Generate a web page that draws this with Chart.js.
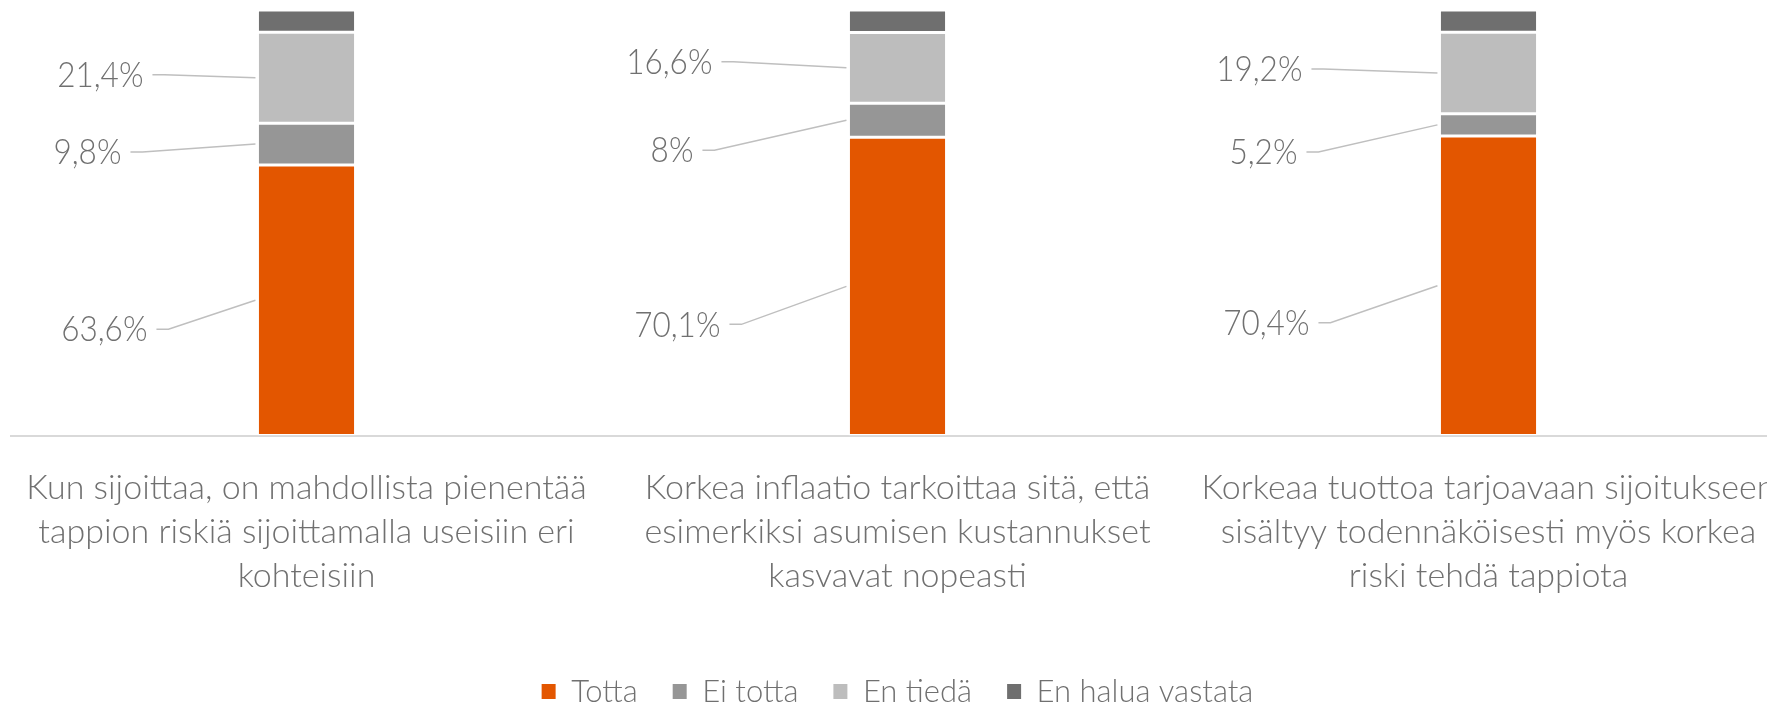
<!DOCTYPE html>
<html>
<head>
<meta charset="utf-8">
<script src="https://cdn.jsdelivr.net/npm/chart.js@4"></script>
<style>
  html, body { margin: 0; padding: 0; background: #fff; overflow: hidden; }
  #wrap { width: 1800px; height: 717px; }
</style>
</head>
<body>
<div id="wrap"><canvas id="chart"></canvas></div>
<script>
// Statements (x axis), three lines each as in the original
const categories = [
  ['Kun sijoittaa, on mahdollista pienentää', 'tappion riskiä sijoittamalla useisiin eri', 'kohteisiin'],
  ['Korkea inflaatio tarkoittaa sitä, että', 'esimerkiksi asumisen kustannukset', 'kasvavat nopeasti'],
  ['Korkeaa tuottoa tarjoavaan sijoitukseen', 'sisältyy todennäköisesti myös korkea', 'riski tehdä tappiota']
];

// Shares of answers (%)
const totta = [63.6, 70.1, 70.4];
const eiTotta = [9.8, 8, 5.2];
const enTieda = [21.4, 16.6, 19.2];
const enHalua = [5.2, 5.3, 5.2];

const seriesNames = ['Totta', 'Ei totta', 'En tiedä', 'En halua vastata'];
const seriesColors = ['#E35600', '#969696', '#BDBDBD', '#6F6F6F'];

// Where each data label sits, relative to its bar segment
// dx = right edge of text from bar left edge, dy = offset from segment middle
const labelOffsets = [
  [{dx: -110, dy: 29}, {dx: -128, dy: 38}, {dx: -130, dy: 37}],
  [{dx: -136, dy: 8},  {dx: -155, dy: 30}, {dx: -142, dy: 27}],
  [{dx: -114, dy: -3}, {dx: -136, dy: -6}, {dx: -137, dy: -4}]
];

const textColor = '#707070';
const fontFamily = 'Lato, "Open Sans", sans-serif';

function fmt(v) {
  return String(v).replace('.', ',') + '%';
}

// Data labels with leader lines, placed left of the bars
const leaderLabels = {
  id: 'leaderLabels',
  afterDatasetsDraw(chart) {
    const ctx = chart.ctx;
    ctx.save();
    ctx.font = '300 35px ' + fontFamily;
    ctx.textAlign = 'right';
    ctx.textBaseline = 'middle';
    for (let d = 0; d < 3; d++) {
      const meta = chart.getDatasetMeta(d);
      meta.data.forEach((bar, i) => {
        const off = labelOffsets[d][i];
        const left = bar.x - bar.width / 2;
        const mid = (bar.y + bar.base) / 2;
        const tx = left + off.dx;
        const ty = mid + off.dy;

        ctx.strokeStyle = '#BFBFBF';
        ctx.lineWidth = 1.5;
        ctx.beginPath();
        ctx.moveTo(tx + 9, ty);
        ctx.lineTo(tx + 21, ty);
        ctx.lineTo(left - 2, mid);
        ctx.stroke();

        // slightly condensed, like the original font
        ctx.save();
        ctx.translate(tx, ty + 1);
        ctx.scale(0.9, 1);
        ctx.fillStyle = textColor;
        ctx.fillText(fmt(chart.data.datasets[d].data[i]), 0, 0);
        ctx.restore();
      });
    }
    ctx.restore();
  }
};

const allSeries = [totta, eiTotta, enTieda, enHalua];

new Chart(document.getElementById('chart'), {
  type: 'bar',
  data: {
    labels: categories,
    datasets: allSeries.map((vals, k) => ({
      label: seriesNames[k],
      data: vals,
      backgroundColor: seriesColors[k],
      borderColor: '#ffffff',
      borderWidth: 1.5,
      borderSkipped: false,
      categoryPercentage: 1,
      barPercentage: 0.166
    }))
  },
  options: {
    responsive: true,
    maintainAspectRatio: false,
    animation: false,
    layout: {
      padding: { left: 11, right: 16, top: 10, bottom: 0 }
    },
    plugins: {
      tooltip: { enabled: false },
      legend: {
        position: 'bottom',
        labels: {
          color: textColor,
          font: { family: fontFamily, size: 31, weight: 300 },
          boxWidth: 14,
          boxHeight: 15,
          padding: 35,
          generateLabels(chart) {
            const items = Chart.defaults.plugins.legend.labels.generateLabels(chart);
            items.forEach(it => { it.lineWidth = 0; });
            return items;
          }
        }
      }
    },
    scales: {
      x: {
        stacked: true,
        grid: { display: false, drawTicks: false },
        border: { display: true, color: '#D9D9D9', width: 2 },
        ticks: {
          color: textColor,
          font: { family: fontFamily, size: 34, weight: 300, lineHeight: 1.3 },
          padding: 30,
          maxRotation: 0,
          autoSkip: false
        },
        afterFit(scale) {
          // long labels may run past the edge, as in the original
          scale.paddingLeft = 0;
          scale.paddingRight = 0;
          scale.height = 205.5;
        }
      },
      y: {
        stacked: true,
        display: false,
        min: 0,
        max: 100
      }
    }
  },
  plugins: [leaderLabels]
});
</script>
</body>
</html>
